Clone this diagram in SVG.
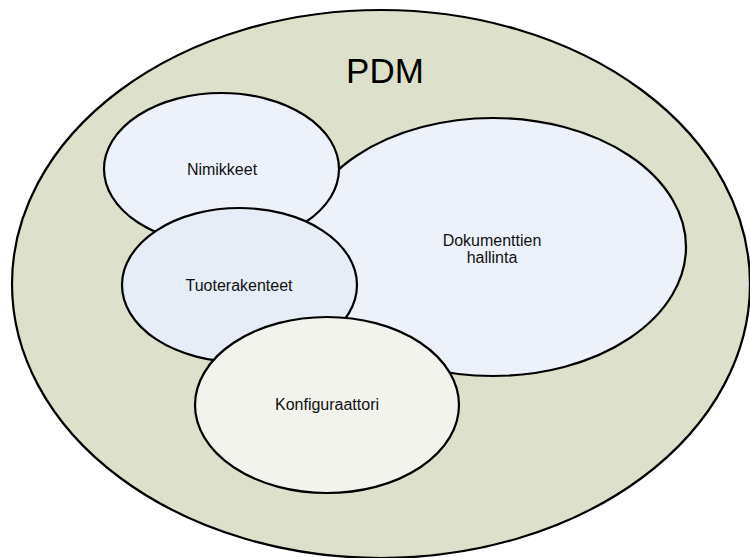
<svg xmlns="http://www.w3.org/2000/svg" width="750" height="558" viewBox="0 0 750 558">
  <style>
    .shape { stroke: #000000; stroke-width: 2.2; }
    .label { font-family: "Liberation Sans", Arial, sans-serif; font-size: 16px; fill: #111111; text-anchor: middle; }
    .title { font-family: "Liberation Sans", Arial, sans-serif; font-size: 35px; fill: #000000; text-anchor: middle; }
  </style>
  <rect width="750" height="558" fill="#ffffff"/>
  <g id="pdm">
    <ellipse class="shape" cx="381" cy="284" rx="369" ry="274" fill="#dde0cb"/>
    <text class="title" x="385" y="83">PDM</text>
  </g>
  <g id="dokumenttien-hallinta">
    <ellipse class="shape" cx="493" cy="247" rx="193" ry="129" fill="#edf1f9"/>
    <text class="label" x="492" y="246">Dokumenttien</text>
    <text class="label" x="492" y="263">hallinta</text>
  </g>
  <g id="nimikkeet">
    <ellipse class="shape" cx="221.5" cy="169" rx="117.5" ry="76" fill="#edf1f9"/>
    <text class="label" x="222" y="175">Nimikkeet</text>
  </g>
  <g id="tuoterakenteet">
    <ellipse class="shape" cx="239.5" cy="285" rx="117.5" ry="77" fill="#e6edf7"/>
    <text class="label" x="239" y="291">Tuoterakenteet</text>
  </g>
  <g id="konfiguraattori">
    <ellipse class="shape" cx="327" cy="405" rx="132" ry="88" fill="#f2f3ec"/>
    <text class="label" x="327" y="410">Konfiguraattori</text>
  </g>
  <g id="connectors"/>
</svg>
